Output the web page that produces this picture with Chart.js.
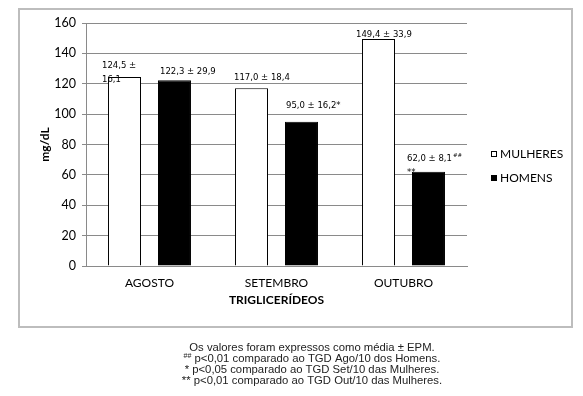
<!DOCTYPE html>
<html>
<head>
<meta charset="utf-8">
<script src="https://cdn.jsdelivr.net/npm/chart.js@4/dist/chart.umd.min.js"></script>
<style>
body { margin: 0; background: #fff; }
#wrap { width: 583px; height: 396px; }
</style>
</head>
<body>
<div id="wrap"><canvas id="tgd-chart" width="583" height="396"></canvas></div>
<script>
var months = ['AGOSTO', 'SETEMBRO', 'OUTUBRO']
var mulheres = [124.5, 117.0, 149.4]
var homens = [122.3, 95.0, 62.0]
var mulheresLabels = [['124,5 \u00b1', '16,1'], ['117,0 \u00b1 18,4'], ['149,4 \u00b1 33,9']]
var homensLabels = [['122,3 \u00b1 29,9'], ['95,0 \u00b1 16,2*'], ['62,0 \u00b1 8,1##', '**']]
var yTicks = [0, 20, 40, 60, 80, 100, 120, 140, 160]
var notes = ['Os valores foram expressos como m\u00e9dia \u00b1 EPM.',
	'## p<0,01 comparado ao TGD Ago/10 dos Homens.',
	'* p<0,05 comparado ao TGD Set/10 das Mulheres.',
	'** p<0,01 comparado ao TGD Out/10 das Mulheres.']

// label nudges (x from bar left, y above bar top) — style only
var labelNudge = [
	[[-6, 11], [-1, 11], [-6, 4]],
	[[2, 8], [1, 16], [-5, 13]]
]

var gridGray = '#8a8a8a'

// draws text, with a trailing "##" as a small superscript
function supText(ctx, t, x, y, font, supFont) {
	var rest = t
	var sup = ''
	if (t.slice(-2) === '##') { rest = t.slice(0, -2); sup = '##' }
	ctx.font = font
	ctx.fillText(rest, x, y)
	if (sup) {
		var w = ctx.measureText(rest).width
		ctx.font = supFont
		ctx.fillText(sup, x + w + 1, y - 3)
	}
}

var extras = {
	id: 'extras',
	beforeDraw: function(chart) {
		var ctx = chart.ctx
		ctx.save()
		ctx.fillStyle = '#fff'
		ctx.fillRect(0, 0, chart.width, chart.height)
		ctx.strokeStyle = '#bdbdbd'
		ctx.lineWidth = 2
		ctx.strokeRect(19, 9, 553, 318)
		ctx.restore()
	},
	afterDraw: function(chart) {
		var ctx = chart.ctx
		ctx.save()
		// value labels
		ctx.fillStyle = '#000'
		ctx.textAlign = 'left'
		ctx.textBaseline = 'middle'
		var sets = [mulheresLabels, homensLabels]
		for (var d = 0; d < 2; d++) {
			var meta = chart.getDatasetMeta(d)
			meta.data.forEach(function(bar, i) {
				var lines = sets[d][i]
				var x = bar.x - bar.width / 2 + labelNudge[d][i][0]
				var y = bar.y - labelNudge[d][i][1]
				lines.forEach(function(t, k) {
					supText(ctx, t, x, y + k * 14, '8.5px "DejaVu Sans"', '5.5px "DejaVu Sans"')
				})
			})
		}
		// legend
		ctx.font = '12px Lato'
		ctx.textBaseline = 'middle'
		var ly = [154, 178]
		chart.data.datasets.forEach(function(ds, i) {
			ctx.fillStyle = ds.backgroundColor
			ctx.fillRect(491, ly[i] - 3, 6, 6)
			ctx.strokeStyle = '#000'
			ctx.lineWidth = 1
			ctx.strokeRect(491.5, ly[i] - 2.5, 5, 5)
			ctx.fillStyle = '#000'
			ctx.fillText(ds.label, 500, ly[i])
		})
		// footnotes
		ctx.font = '11.3px "Liberation Sans"'
		ctx.textAlign = 'center'
		ctx.textBaseline = 'middle'
		ctx.fillStyle = '#222'
		var ny = [348, 359, 370, 381]
		notes.forEach(function(t, i) {
			if (t.indexOf('##') === 0) {
				var rest = t.slice(2)
				ctx.font = '11.3px "Liberation Sans"'
				var w = ctx.measureText(rest).width
				ctx.font = '7px "Liberation Sans"'
				var sw = ctx.measureText('##').width
				var left = 312 - (w + sw) / 2
				ctx.textAlign = 'left'
				ctx.fillText('##', left, ny[i] - 3)
				ctx.font = '11.3px "Liberation Sans"'
				ctx.fillText(rest, left + sw, ny[i])
				ctx.textAlign = 'center'
			} else {
				ctx.fillText(t, 312, ny[i])
			}
		})
		ctx.restore()
	}
}

var ctx = document.getElementById('tgd-chart').getContext('2d')
var myChart = new Chart(ctx, {
	type: 'bar',
	data: {
		labels: months,
		datasets: [{
			label: 'MULHERES',
			data: mulheres,
			backgroundColor: '#ffffff',
			borderColor: '#000000',
			borderWidth: 1,
			categoryPercentage: 0.787,
			barPercentage: 0.66
		}, {
			label: 'HOMENS',
			data: homens,
			backgroundColor: '#000000',
			borderColor: '#000000',
			borderWidth: 1,
			categoryPercentage: 0.787,
			barPercentage: 0.66
		}]
	},
	options: {
		responsive: false,
		animation: false,
		devicePixelRatio: 1,
		layout: { padding: { left: 18, right: 116, top: 23, bottom: 89 } },
		plugins: {
			legend: { display: false },
			tooltip: { enabled: false }
		},
		scales: {
			x: {
				grid: { display: false, tickLength: 0 },
				border: { display: true, color: gridGray },
				ticks: { color: '#000', font: { family: 'Lato', size: 12 }, padding: 10 },
				title: { display: true, text: 'TRIGLICER\u00cdDEOS', color: '#000',
					font: { family: 'Lato', size: 12, weight: 'bold' }, padding: { top: 0, bottom: 0 } },
				afterFit: function(scale) { scale.height = 41 }
			},
			y: {
				min: 0,
				max: 160,
				afterBuildTicks: function(scale) {
					scale.ticks = yTicks.map(function(v) { return { value: v } })
				},
				grid: { color: gridGray, tickLength: 4, lineWidth: 1 },
				border: { display: true, color: gridGray },
				ticks: { color: '#000', font: { family: 'Lato', size: 12.5 }, padding: 6 },
				title: { display: true, text: 'mg/dL', color: '#000',
					font: { family: 'Lato', size: 12, weight: 'bold' }, padding: { top: 20, bottom: 0 } },
				afterFit: function(scale) { scale.width = 68 }
			}
		}
	},
	plugins: [extras]
})
</script>
</body>
</html>
